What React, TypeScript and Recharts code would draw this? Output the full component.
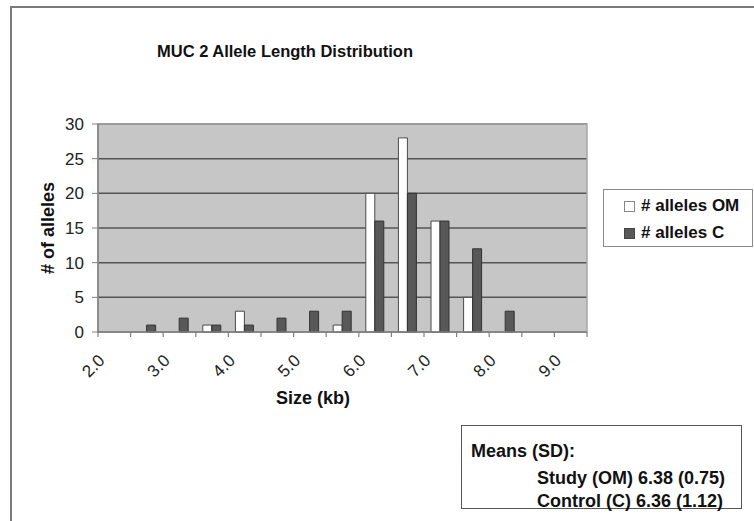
import React from 'react';
import { BarChart, Bar, XAxis, YAxis, CartesianGrid, Legend, ReferenceArea } from 'recharts';

// ---- data ----
const sizes = ['2.0', '2.5', '3.0', '3.5', '4.0', '4.5', '5.0', '5.5', '6.0', '6.5', '7.0', '7.5', '8.0', '8.5', '9.0'];
const allelesOM = [0, 0, 0, 1, 3, 0, 0, 1, 20, 28, 16, 5, 0, 0, 0];
const allelesC = [0, 1, 2, 1, 1, 2, 3, 3, 16, 20, 16, 12, 3, 0, 0];
const labeledSizes = ['2.0', '3.0', '4.0', '5.0', '6.0', '7.0', '8.0', '9.0'];
const yTicks = [0, 5, 10, 15, 20, 25, 30];
const seriesNames = ['# alleles OM', '# alleles C'];
const titleText = 'MUC 2 Allele Length Distribution';
const xTitle = 'Size (kb)';
const yTitle = '# of alleles';
const meansHeader = 'Means (SD):';
const meansLines = ['Study (OM) 6.38 (0.75)', 'Control (C) 6.36 (1.12)'];

const data = sizes.map((s, i) => ({ size: s, om: allelesOM[i], c: allelesC[i] }));

// ---- layout ----
const W = 754;
const H = 521;
const PLOT_LEFT = 98;
const PLOT_RIGHT = 587;
const PLOT_TOP = 124;
const PLOT_BOTTOM = 332;
const X_AXIS_H = 80;
const STEP = (PLOT_RIGHT - PLOT_LEFT) / sizes.length;
const FONT = '"Liberation Sans", Arial, Helvetica, sans-serif';

const XTick = (props: any) => {
  const { x, y, payload } = props;
  const idx = payload && typeof payload.index === 'number' ? payload.index : props.index;
  const value = payload ? payload.value : '';
  const show = labeledSizes.includes(value);
  const ax = x - 17;
  const ay = y + 21;
  return (
    <g>
      <line x1={x - STEP / 2} x2={x - STEP / 2} y1={y} y2={y + 5} stroke="#808080" strokeWidth={1.2} />
      {idx === sizes.length - 1 && (
        <line x1={x + STEP / 2} x2={x + STEP / 2} y1={y} y2={y + 5} stroke="#808080" strokeWidth={1.2} />
      )}
      {show && (
        <text
          x={ax}
          y={ay}
          textAnchor="end"
          dominantBaseline="hanging"
          transform={`rotate(-45, ${ax}, ${ay})`}
          style={{ fontSize: '17px', fontFamily: FONT }}
          fill="#222"
        >
          {value}
        </text>
      )}
    </g>
  );
};

const XTitle = (props: any) => {
  const vb = props.viewBox || { x: PLOT_LEFT, y: PLOT_BOTTOM, width: 0 };
  return (
    <text
      x={vb.x + 215}
      y={vb.y + 66}
      textAnchor="middle"
      dominantBaseline="central"
      style={{ fontSize: '18px', fontWeight: 'bold', fontFamily: FONT }}
      fill="#111"
    >
      {xTitle}
    </text>
  );
};

const YTitle = (props: any) => {
  const vb = props.viewBox || { x: 0, y: PLOT_TOP, height: PLOT_BOTTOM - PLOT_TOP };
  const cx = vb.x + 48;
  const cy = vb.y + vb.height / 2;
  return (
    <text
      x={cx}
      y={cy}
      textAnchor="middle"
      dominantBaseline="central"
      transform={`rotate(-90, ${cx}, ${cy})`}
      style={{ fontSize: '18px', fontWeight: 'bold', fontFamily: FONT }}
      fill="#111"
    >
      {yTitle}
    </text>
  );
};

const markerStyles: Record<string, any> = {
  [seriesNames[0]]: { background: '#ffffff', border: '1.5px solid #888' },
  [seriesNames[1]]: { background: '#585858', border: '1.5px solid #444' },
};

const LegendContent = (props: any) => {
  const payload = [...(props.payload || [])].sort(
    (a: any, b: any) => seriesNames.indexOf(a.value) - seriesNames.indexOf(b.value)
  );
  return (
    <div
      style={{
        width: 150,
        height: 58,
        boxSizing: 'border-box',
        border: '1.5px solid #8a8a8a',
        background: '#fff',
        fontFamily: FONT,
        position: 'relative',
      }}
    >
      {payload.map((p: any, i: number) => (
        <div
          key={i}
          style={{
            position: 'absolute',
            left: 20,
            top: 5 + i * 27,
            height: 22,
            display: 'flex',
            alignItems: 'center',
            whiteSpace: 'nowrap',
          }}
        >
          <span
            style={{
              display: 'inline-block',
              width: 9,
              height: 9,
              boxSizing: 'content-box',
              marginRight: 6,
              ...(markerStyles[p.value] || {}),
            }}
          />
          <span style={{ fontSize: 17, fontWeight: 'bold', color: '#111' }}>{p.value}</span>
        </div>
      ))}
    </div>
  );
};

export default function App() {
  return (
    <div
      style={{
        position: 'absolute',
        left: 0,
        top: 0,
        width: W,
        height: H,
        overflow: 'hidden',
        background: '#fff',
      }}
    >
      <div
        style={{
          position: 'absolute',
          left: 10,
          top: 6,
          width: W + 20,
          height: H + 20,
          borderLeft: '2px solid #7a7a7a',
          borderTop: '2px solid #7a7a7a',
        }}
      />
      <div style={{ position: 'absolute', left: 0, top: 0 }}>
        <BarChart
          width={W}
          height={H}
          data={data}
          barGap={0}
          margin={{ top: PLOT_TOP, right: W - PLOT_RIGHT, bottom: H - PLOT_BOTTOM - X_AXIS_H, left: 0 }}
        >
          <CartesianGrid vertical={false} stroke="#555" strokeWidth={1.5} fill="#c6c6c6" fillOpacity={1} />
          <ReferenceArea y1={0} y2={30} fill="none" stroke="#a8a8a8" strokeWidth={1.5} ifOverflow="visible" />
          <XAxis
            dataKey="size"
            type="category"
            interval={0}
            height={X_AXIS_H}
            tickLine={false}
            tickSize={0}
            tickMargin={0}
            axisLine={{ stroke: '#808080', strokeWidth: 1.5 }}
            tick={<XTick />}
            label={<XTitle />}
          />
          <YAxis
            type="number"
            domain={[0, 30]}
            ticks={yTicks}
            interval={0}
            width={PLOT_LEFT}
            tickSize={6}
            tickMargin={8}
            tickLine={{ stroke: '#808080' }}
            axisLine={{ stroke: '#808080', strokeWidth: 1.5 }}
            tick={{ fontSize: 17, fill: '#222', fontFamily: FONT }}
            label={<YTitle />}
          />
          <Legend
            layout="vertical"
            align="center"
            verticalAlign="middle"
            wrapperStyle={{ left: 603, top: 189, width: 150, height: 58 }}
            content={<LegendContent />}
          />
          <Bar
            dataKey="om"
            name={seriesNames[0]}
            fill="#ffffff"
            stroke="#4a4a4a"
            strokeWidth={1}
            barSize={9}
            isAnimationActive={false}
          />
          <Bar
            dataKey="c"
            name={seriesNames[1]}
            fill="#585858"
            stroke="#333"
            strokeWidth={1}
            barSize={9}
            isAnimationActive={false}
          />
        </BarChart>
      </div>
      <div
        style={{
          position: 'absolute',
          left: 0,
          width: 570,
          top: 41,
          lineHeight: '20px',
          textAlign: 'center',
          fontFamily: FONT,
          fontSize: 16.5,
          fontWeight: 'bold',
          color: '#111',
        }}
      >
        {titleText}
      </div>
      <div
        style={{
          position: 'absolute',
          left: 461,
          top: 425,
          width: 281,
          height: 84,
          boxSizing: 'border-box',
          border: '1.5px solid #555',
          background: '#fff',
          fontFamily: FONT,
          fontWeight: 'bold',
          fontSize: 18,
          color: '#111',
        }}
      >
        <div style={{ position: 'absolute', left: 9, top: 14, lineHeight: '22px', whiteSpace: 'nowrap' }}>{meansHeader}</div>
        {meansLines.map((t, i) => (
          <div
            key={i}
            style={{
              position: 'absolute',
              left: 75,
              top: 41 + i * 22.5,
              lineHeight: '22px',
              whiteSpace: 'nowrap',
            }}
          >
            {t}
          </div>
        ))}
      </div>
    </div>
  );
}
